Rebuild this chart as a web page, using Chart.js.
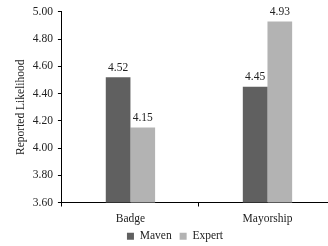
<!DOCTYPE html>
<html>
<head>
<meta charset="utf-8">
<script src="https://cdn.jsdelivr.net/npm/chart.js@4/dist/chart.umd.min.js"></script>
<style>
html,body{margin:0;padding:0;background:#fff;overflow:hidden;width:328px;height:246px;}
#wrap{width:350px;height:246px;}
</style>
</head>
<body>
<div id="wrap"><canvas id="c" width="350" height="246"></canvas></div>
<script>
const categories = ["Badge", "Mayorship"];
const mavenValues = [4.52, 4.45];
const expertValues = [4.15, 4.93];
const seriesNames = ["Maven", "Expert"];
const yTicks = [3.6, 3.8, 4.0, 4.2, 4.4, 4.6, 4.8, 5.0];

const FONT = "'Liberation Serif', 'Times New Roman', serif";
Chart.defaults.font.family = FONT;
Chart.defaults.font.size = 11.5;
Chart.defaults.color = "#222";

const valueLabels = {
  id: 'valueLabels',
  afterLayout(chart) {
    // let x labels draw beyond the compact axis box
    chart.scales.x.bottom += 14;
  },
  afterDatasetsDraw(chart) {
    const ctx = chart.ctx;
    ctx.save();
    ctx.font = "11.5px " + FONT;
    ctx.fillStyle = "#222";
    ctx.textAlign = "center";
    ctx.textBaseline = "bottom";
    chart.data.datasets.forEach((ds, i) => {
      chart.getDatasetMeta(i).data.forEach((bar, j) => {
        ctx.fillText(ds.data[j].toFixed(2), bar.x, bar.y - 4);
      });
    });
    ctx.restore();
  }
};

new Chart(document.getElementById('c'), {
  type: 'bar',
  data: {
    labels: categories,
    datasets: [
      { label: seriesNames[0], data: mavenValues, backgroundColor: '#606060', categoryPercentage: 0.36, barPercentage: 1.0 },
      { label: seriesNames[1], data: expertValues, backgroundColor: '#b3b3b3', categoryPercentage: 0.36, barPercentage: 1.0 }
    ]
  },
  options: {
    responsive: false,
    animation: false,
    layout: { padding: { top: -2, right: 14, left: 14, bottom: -6 } },
    plugins: {
      legend: {
        position: 'bottom',
        labels: { boxWidth: 7, boxHeight: 7, padding: 8, color: '#222', font: { size: 11.5 } }
      },
      tooltip: { enabled: false }
    },
    scales: {
      x: {
        offset: true,
        grid: { offset: true, drawOnChartArea: false, tickLength: 4, color: '#000' },
        border: { color: '#000', width: 1 },
        ticks: { color: '#222', padding: 6 },
        afterFit(axis) { axis.height = 20; }
      },
      y: {
        min: 3.6, max: 5.0,
        afterBuildTicks(axis) { axis.ticks = yTicks.map(v => ({ value: v })); },
        grid: { drawOnChartArea: false, tickLength: 4, color: '#000' },
        border: { color: '#000', width: 1 },
        ticks: { color: '#222', padding: 5, callback: v => Number(v).toFixed(2) },
        title: { display: true, text: 'Reported Likelihood', color: '#222', font: { size: 11.5 }, padding: 0 }
      }
    }
  },
  plugins: [valueLabels]
});
</script>
</body>
</html>
